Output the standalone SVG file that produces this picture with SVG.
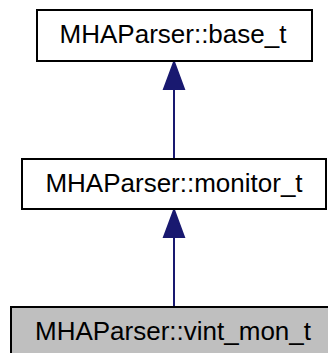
<svg xmlns="http://www.w3.org/2000/svg" width="328" height="353" viewBox="0 0 328 353">
<style>
.box{stroke:#000;stroke-width:2;}
.lbl{font-family:"Liberation Sans",Arial,sans-serif;font-size:26px;text-anchor:middle;fill:#000;}
.edge{stroke:#191970;stroke-width:2;fill:none;}
.head{fill:#191970;stroke:#191970;stroke-width:2;}
</style>
<rect width="328" height="353" fill="#fff"/>
<g id="connectors">
<path class="edge" d="M174,89 L174,159"/>
<polygon class="head" points="174,62 164,89 184,89"/>
<path class="edge" d="M174,237 L174,307"/>
<polygon class="head" points="174,210 164,237 184,237"/>
</g>
<g id="base_t">
<rect class="box" x="37" y="10" width="275" height="51" fill="#fff"/>
<text class="lbl" x="173" y="43">MHAParser::base_t</text>
</g>
<g id="monitor_t">
<rect class="box" x="22" y="159" width="304" height="50" fill="#fff"/>
<text class="lbl" x="174" y="192">MHAParser::monitor_t</text>
</g>
<g id="vint_mon_t">
<rect class="box" x="11" y="307" width="325" height="60" fill="#bfbfbf"/>
<text class="lbl" x="173" y="340">MHAParser::vint_mon_t</text>
</g>
</svg>
